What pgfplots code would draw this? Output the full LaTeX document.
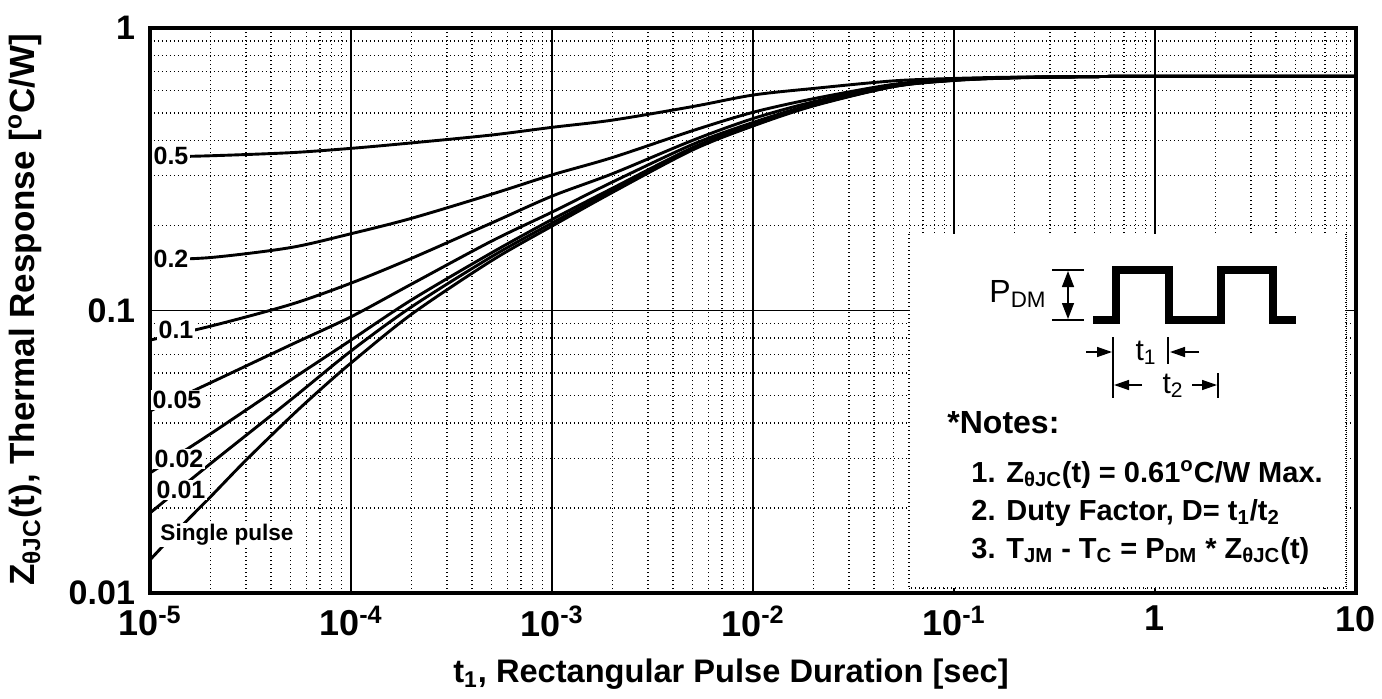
\documentclass[border=0pt]{standalone}
\usepackage{fontspec}
\setmainfont{Liberation Sans}
\usepackage{pgfplots}
\pgfplotsset{compat=1.18}
\usetikzlibrary{arrows.meta}

\pgfplotsset{
  curve/.style={black, line width=1.45pt, smooth, no marks},
}
\tikzset{
  lbl/.style={font=\fontsize{12.5}{14}\selectfont\bfseries, fill=white, inner sep=0.6pt},
  note/.style={font=\fontsize{14.5}{17}\selectfont\bfseries, anchor=base west, inner sep=0pt},
  thin line/.style={line width=0.7pt},
  head/.style={-{Triangle[width=5pt,length=7.5pt]}},
}

\begin{document}
\begin{tikzpicture}
\begin{axis}[
    name=ax, at={(0,0)}, anchor=south west,
    scale only axis, width=603pt, height=282.5pt,
    xmode=log, ymode=log,
    xmin=1e-5, xmax=10, ymin=0.01, ymax=1,
    xtick={1e-5,1e-4,1e-3,1e-2,1e-1,1,10},
    xticklabels={10\textsuperscript{-5},10\textsuperscript{-4},10\textsuperscript{-3},10\textsuperscript{-2},10\textsuperscript{-1},1,10},
    minor xtick={2e-5,3e-5,4e-5,5e-5,6e-5,7e-5,8e-5,9e-5,
                 2e-4,3e-4,4e-4,5e-4,6e-4,7e-4,8e-4,9e-4,
                 2e-3,3e-3,4e-3,5e-3,6e-3,7e-3,8e-3,9e-3,
                 2e-2,3e-2,4e-2,5e-2,6e-2,7e-2,8e-2,9e-2,
                 0.2,0.3,0.4,0.5,0.6,0.7,0.8,0.9,
                 2,3,4,5,6,7,8,9},
    ytick={0.01,0.1,1},
    yticklabels={0.01,0.1,1},
    minor ytick={0.02,0.03,0.04,0.05,0.06,0.07,0.08,0.09,
                 0.2,0.3,0.4,0.5,0.6,0.7,0.8,0.9},
    grid=both,
    major grid style={black, line width=0.8pt},
    minor grid style={black, line width=0.7pt, dash pattern=on 0.7pt off 1.3pt},
    major tick length=0pt, minor tick length=0pt,
    axis line style={line width=2pt},
    yticklabel style={font=\fontsize{17}{20}\selectfont\bfseries, xshift=-4pt},
    xticklabel style={font=\fontsize{18}{21}\selectfont\bfseries, yshift=-3pt},
    xlabel={t\textsubscript{1}, Rectangular Pulse Duration [sec]},
    ylabel={Z\textsubscript{θJC}(t), Thermal Response [\textsuperscript{o}C/W]},
    xlabel style={font=\fontsize{16.3}{19}\selectfont\bfseries,
                  at={(axis description cs:0.4818,-0.1575)}, anchor=base},
    ylabel style={font=\fontsize{17.5}{20}\selectfont\bfseries,
                  at={(axis description cs:-0.1036,0.501)}, anchor=center},
]

% D = 0.5
\addplot[curve] coordinates {
(1e-5,0.349)(2e-5,0.353)(5e-5,0.362)(1e-4,0.375)(2e-4,0.392)(5e-4,0.418)
(1e-3,0.445)(2e-3,0.472)(5e-3,0.527)(1e-2,0.579)(2e-2,0.611)(5e-2,0.650)
(1e-1,0.663)(2e-1,0.670)(5e-1,0.673)(1,0.675)(10,0.675)
};
% D = 0.2
\addplot[curve] coordinates {
(1e-5,0.151)(2e-5,0.154)(5e-5,0.167)(1e-4,0.187)(2e-4,0.212)(5e-4,0.258)
(1e-3,0.302)(2e-3,0.348)(5e-3,0.433)(1e-2,0.503)(2e-2,0.562)(5e-2,0.632)
(1e-1,0.658)(2e-1,0.668)(5e-1,0.673)(1,0.675)(10,0.675)
};
% D = 0.1
\addplot[curve] coordinates {
(1e-5,0.0786)(2e-5,0.0880)(5e-5,0.105)(1e-4,0.125)(2e-4,0.153)(5e-4,0.204)
(1e-3,0.254)(2e-3,0.305)(5e-3,0.400)(1e-2,0.478)(2e-2,0.548)(5e-2,0.627)
(1e-1,0.656)(2e-1,0.668)(5e-1,0.673)(1,0.675)(10,0.675)
};
% D = 0.05
\addplot[curve] coordinates {
(1e-5,0.0441)(2e-5,0.0555)(5e-5,0.0755)(1e-4,0.095)(2e-4,0.124)(5e-4,0.176)
(1e-3,0.223)(2e-3,0.285)(5e-3,0.387)(1e-2,0.463)(2e-2,0.538)(5e-2,0.624)
(1e-1,0.655)(2e-1,0.667)(5e-1,0.673)(1,0.675)(10,0.675)
};
% D = 0.02
\addplot[curve] coordinates {
(1e-5,0.0266)(2e-5,0.0366)(5e-5,0.0567)(1e-4,0.0786)(2e-4,0.109)(5e-4,0.160)
(1e-3,0.210)(2e-3,0.271)(5e-3,0.377)(1e-2,0.456)(2e-2,0.534)(5e-2,0.622)
(1e-1,0.654)(2e-1,0.667)(5e-1,0.673)(1,0.675)(10,0.675)
};
% D = 0.01
\addplot[curve] coordinates {
(1e-5,0.0192)(2e-5,0.0287)(5e-5,0.0482)(1e-4,0.0719)(2e-4,0.103)(5e-4,0.155)
(1e-3,0.204)(2e-3,0.266)(5e-3,0.373)(1e-2,0.452)(2e-2,0.532)(5e-2,0.621)
(1e-1,0.653)(2e-1,0.667)(5e-1,0.673)(1,0.675)(10,0.675)
};
% single pulse
\addplot[curve] coordinates {
(1e-5,0.0131)(1.5e-5,0.0178)(2e-5,0.0219)(3e-5,0.0295)(5e-5,0.042)(7e-5,0.0523)
(1e-4,0.0652)(2e-4,0.097)(5e-4,0.150)(1e-3,0.199)(2e-3,0.262)(5e-3,0.370)
(1e-2,0.450)(2e-2,0.530)(5e-2,0.620)(1e-1,0.652)(2e-1,0.666)(5e-1,0.673)
(1,0.675)(10,0.675)
};
\end{axis}

\pgfresetboundingbox
% overlay in pixel units of the reference (origin top left)
\begin{scope}[x=0.5pt, y=-0.5pt, shift={(-75pt,296.5pt)}]
\path[use as bounding box] (0,0) rectangle (1382,698);

% curve labels
\node[lbl] at (171,156) {0.5};
\node[lbl] at (171,259) {0.2};
\node[lbl] at (176,330) {0.1};
\node[lbl] at (177,400) {0.05};
\node[lbl] at (179,459) {0.02};
\node[lbl] at (181,490) {0.01};
\node[lbl, font=\fontsize{11.3}{13}\selectfont\bfseries] at (227,535) {Single pulse};

% notes box
\fill[white] (909,234) rectangle (1346,588);
\draw[black, line width=0.7pt, dash pattern=on 0.7pt off 1.3pt] (909,234) -- (909,588) -- (1346,588) -- (1346,234);

% pulse train
\draw[line width=3.7pt, line join=miter] (1093,320) -- (1116,320) -- (1116,270) -- (1169,270)
  -- (1169,320) -- (1221,320) -- (1221,270) -- (1273,270) -- (1273,320) -- (1296,320);

\node[anchor=base east, inner sep=0pt, font=\fontsize{16}{19}\selectfont] at (1047,302) {P\textsubscript{DM}};
\draw[thin line] (1052,270) -- (1084,270);
\draw[thin line] (1052,320) -- (1084,320);
\draw[thin line, {Triangle[width=6pt,length=8pt]}-{Triangle[width=6pt,length=8pt]}] (1068,271) -- (1068,319);

% t1, t2
\draw[thin line] (1113,337) -- (1113,398);
\draw[thin line] (1168,337) -- (1168,364);
\draw[thin line] (1218,373) -- (1218,398);
\draw[thin line, head] (1086,352) -- (1112,352);
\draw[thin line, head] (1199,352) -- (1170,352);
\draw[thin line, head] (1142,385) -- (1114,385);
\draw[thin line, head] (1192,385) -- (1217,385);
\node[anchor=base, inner sep=0pt, font=\fontsize{15}{18}\selectfont] at (1146,360) {t\textsubscript{1}};
\node[anchor=base, inner sep=0pt, font=\fontsize{15}{18}\selectfont] at (1173,393) {t\textsubscript{2}};

% notes
\node[note, font=\fontsize{16}{19}\selectfont\bfseries] at (947,433) {*Notes:};
\node[note] at (971,482) {1. Z\textsubscript{θJC}(t) = 0.61\textsuperscript{o}C/W Max.};
\node[note] at (971,520) {2. Duty Factor, D= t\textsubscript{1}/t\textsubscript{2}};
\node[note] at (971,558) {3. T\textsubscript{JM} - T\textsubscript{C} = P\textsubscript{DM} * Z\textsubscript{θJC}(t)};
\end{scope}
\end{tikzpicture}
\end{document}
